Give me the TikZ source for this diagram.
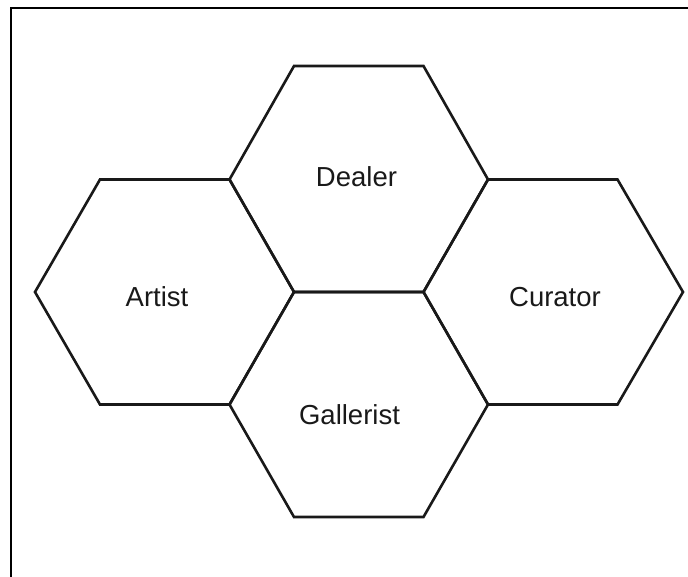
\documentclass[tikz,border=0pt]{standalone}
\usepackage{fontspec}
\setmainfont{Liberation Sans}
\begin{document}
\begin{tikzpicture}[x=1pt,y=-1pt,
  hexline/.style={line width=2.6pt, line join=miter, draw=black!90},
  framestyle/.style={line width=2.6pt, draw=black},
  lbl/.style={font=\fontsize{27.5}{30}\selectfont, anchor=base, inner sep=0pt, text=black!90}]
\useasboundingbox (0,0) rectangle (688,577);
% frame (only top and left edges visible)
\draw[framestyle] (11,577) -- (11,8) -- (688,8);
% hexagons
\draw[hexline] (229.5,179.5) -- (294,66) -- (423.5,66) -- (488,179.5) -- (423.5,292) -- (294,292) -- cycle;
\draw[hexline] (35,292) -- (100,179.5) -- (229.5,179.5) -- (294,292) -- (229.5,404.5) -- (100,404.5) -- cycle;
\draw[hexline] (423.5,292) -- (488,179.5) -- (617.5,179.5) -- (683,292) -- (617.5,404.5) -- (488,404.5) -- cycle;
\draw[hexline] (229.5,404.5) -- (294,292) -- (423.5,292) -- (488,404.5) -- (423.5,517) -- (294,517) -- cycle;
% labels
\node[lbl] (dealer) at (356.5,187) {Dealer};
\node[lbl] (artist) at (157,306) {Artist};
\node[lbl] (curator) at (555,306) {Curator};
\node[lbl] (gallerist) at (349.5,424) {Gallerist};
\end{tikzpicture}
\end{document}
